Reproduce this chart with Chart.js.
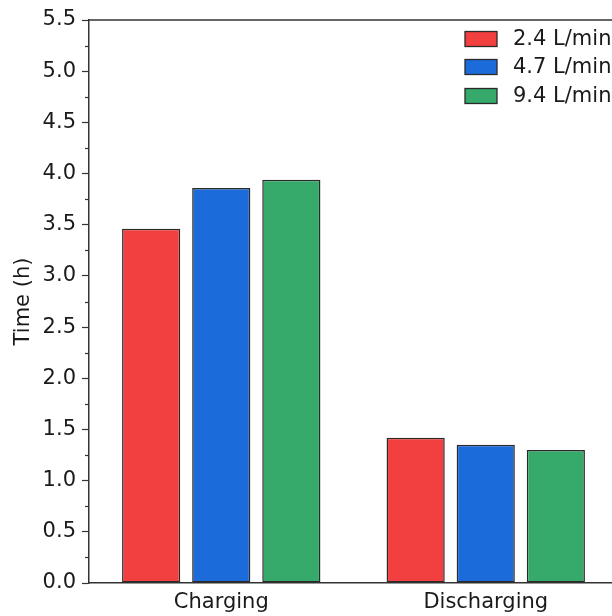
<!DOCTYPE html>
<html>
<head>
<meta charset="utf-8">
<script src="https://cdn.jsdelivr.net/npm/chart.js@4.4.0/dist/chart.umd.min.js"></script>
<style>
  html, body { margin: 0; padding: 0; overflow: hidden; background: #fff; }
  #wrap { position: absolute; left: 0; top: 0; width: 618px; height: 616px; }
</style>
</head>
<body>
<div id="wrap"><canvas id="c" width="618" height="616"></canvas></div>
<script>
// Process phases on the x axis
const phases = ['Charging', 'Discharging'];
// Flow-rate series labels
const flowRates = ['2.4 L/min', '4.7 L/min', '9.4 L/min'];
// Time in hours per flow rate, one value per phase
const time24 = [3.46, 1.42];
const time47 = [3.86, 1.35];
const time94 = [3.94, 1.30];
// Y-axis range and major step
const yMin = 0, yMax = 5.5, yStep = 0.5;

const fills = ['#F23F3F', '#1C6BDB', '#35AA6A'];
const axisColor = '#333333';
const edgeColor = '#2a2a2a';
const textColor = '#1a1a1a';
const font = 'DejaVu Sans, sans-serif';
const fontSize = 21;

// Frame, minor ticks and inset legend
const decor = {
  id: 'decor',
  afterDraw(chart) {
    const ctx = chart.ctx;
    const a = chart.chartArea;
    const y = chart.scales.y;
    ctx.save();
    ctx.strokeStyle = axisColor;
    ctx.lineWidth = 1.5;
    ctx.beginPath();
    ctx.moveTo(a.left, a.top);
    ctx.lineTo(a.right, a.top);
    ctx.lineTo(a.right, a.bottom);
    ctx.stroke();
    // minor ticks halfway between majors
    ctx.lineWidth = 1.2;
    for (let v = yMin + yStep / 2; v < yMax; v += yStep) {
      const py = Math.round(y.getPixelForValue(v)) + 0.5;
      ctx.beginPath();
      ctx.moveTo(a.left - 4, py);
      ctx.lineTo(a.left, py);
      ctx.stroke();
    }
    // legend in the upper right corner of the plot
    const boxX = 465, boxW = 32, boxH = 15, row0 = 38.5, rowGap = 28.7;
    ctx.font = fontSize + 'px ' + font;
    ctx.textBaseline = 'middle';
    ctx.textAlign = 'left';
    chart.data.datasets.forEach((ds, i) => {
      const cy = Math.round(row0 + i * rowGap);
      ctx.fillStyle = ds.backgroundColor;
      ctx.fillRect(boxX, cy - boxH / 2, boxW, boxH);
      ctx.strokeStyle = edgeColor;
      ctx.lineWidth = 1.3;
      ctx.strokeRect(boxX, cy - boxH / 2, boxW, boxH);
      ctx.fillStyle = textColor;
      ctx.fillText(ds.label, boxX + 48, cy + 1);
    });
    ctx.restore();
  }
};

new Chart(document.getElementById('c'), {
  type: 'bar',
  data: {
    labels: phases,
    datasets: [
      { label: flowRates[0], data: time24, backgroundColor: fills[0] },
      { label: flowRates[1], data: time47, backgroundColor: fills[1] },
      { label: flowRates[2], data: time94, backgroundColor: fills[2] }
    ].map(d => Object.assign(d, {
      borderColor: edgeColor,
      borderWidth: 1.5,
      borderSkipped: false,
      categoryPercentage: 0.795,
      barPercentage: 0.83
    }))
  },
  options: {
    responsive: false,
    animation: false,
    devicePixelRatio: 1,
    layout: { padding: { top: 20, right: 0, left: 0, bottom: 0 } },
    plugins: { legend: { display: false }, tooltip: { enabled: false } },
    scales: {
      x: {
        afterFit(s) { s.height = 33; },
        grid: { display: false, drawTicks: false },
        border: { display: true, color: axisColor, width: 1.5 },
        ticks: { color: textColor, font: { family: font, size: fontSize }, padding: 7 }
      },
      y: {
        min: yMin,
        max: yMax,
        afterFit(s) { s.width = 89; },
        ticks: {
          stepSize: yStep,
          color: textColor,
          font: { family: font, size: fontSize },
          padding: 6,
          callback: v => v.toFixed(1)
        },
        grid: { drawOnChartArea: false, drawTicks: true, tickLength: 7, tickColor: axisColor, tickWidth: 1.2 },
        border: { display: true, color: axisColor, width: 1.5 },
        title: {
          display: true,
          text: 'Time (h)',
          color: textColor,
          font: { family: font, size: fontSize },
          padding: { top: 11, bottom: 0 }
        }
      }
    }
  },
  plugins: [decor]
});
</script>
</body>
</html>
